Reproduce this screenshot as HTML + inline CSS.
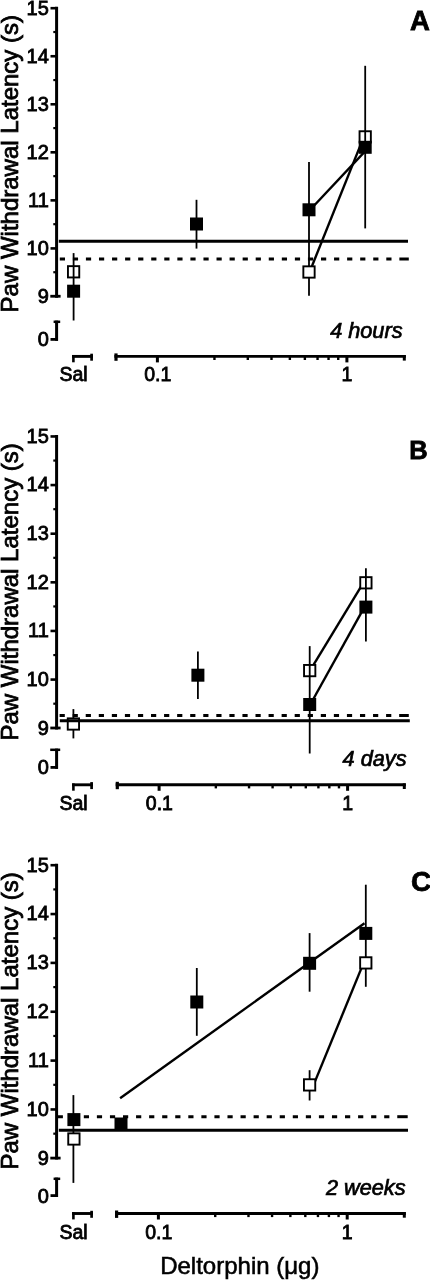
<!DOCTYPE html>
<html><head><meta charset="utf-8"><title>Deltorphin dose-response</title>
<style>
html,body{margin:0;padding:0;background:#fff;width:430px;height:1280px;overflow:hidden}
svg{display:block}
text{font-family:"Liberation Sans", Arial, Helvetica, sans-serif;fill:#000;stroke:#000;stroke-width:0.8px}
line{stroke:#000}
</style></head><body>
<svg width="430" height="1280" viewBox="0 0 430 1280">
<rect x="0" y="0" width="430" height="1280" fill="#fff"/>
<line x1="56.60" y1="6.80" x2="56.60" y2="297.65" stroke-width="3" />
<line x1="50.30" y1="296.25" x2="60.60" y2="296.25" stroke-width="2.8" />
<text x="48.80" y="302.85" font-size="20" text-anchor="end" >9</text>
<line x1="50.50" y1="248.41" x2="56.60" y2="248.41" stroke-width="2.6" />
<text x="48.80" y="254.81" font-size="20" text-anchor="end" >10</text>
<line x1="50.50" y1="200.37" x2="56.60" y2="200.37" stroke-width="2.6" />
<text x="48.80" y="206.77" font-size="20" text-anchor="end" >11</text>
<line x1="50.50" y1="152.32" x2="56.60" y2="152.32" stroke-width="2.6" />
<text x="48.80" y="158.72" font-size="20" text-anchor="end" >12</text>
<line x1="50.50" y1="104.28" x2="56.60" y2="104.28" stroke-width="2.6" />
<text x="48.80" y="110.68" font-size="20" text-anchor="end" >13</text>
<line x1="50.50" y1="56.24" x2="56.60" y2="56.24" stroke-width="2.6" />
<text x="48.80" y="62.64" font-size="20" text-anchor="end" >14</text>
<line x1="50.50" y1="8.20" x2="56.60" y2="8.20" stroke-width="2.6" />
<text x="48.80" y="14.60" font-size="20" text-anchor="end" >15</text>
<line x1="53.30" y1="272.23" x2="56.60" y2="272.23" stroke-width="2.2" />
<line x1="53.30" y1="224.19" x2="56.60" y2="224.19" stroke-width="2.2" />
<line x1="53.30" y1="176.15" x2="56.60" y2="176.15" stroke-width="2.2" />
<line x1="53.30" y1="128.10" x2="56.60" y2="128.10" stroke-width="2.2" />
<line x1="53.30" y1="80.06" x2="56.60" y2="80.06" stroke-width="2.2" />
<line x1="53.30" y1="32.02" x2="56.60" y2="32.02" stroke-width="2.2" />
<line x1="56.60" y1="320.60" x2="56.60" y2="340.80" stroke-width="3" />
<line x1="53.60" y1="321.80" x2="60.20" y2="321.80" stroke-width="2.5" />
<line x1="50.50" y1="339.40" x2="58.00" y2="339.40" stroke-width="2.8" />
<text x="48.80" y="346.40" font-size="20" text-anchor="end" >0</text>
<line x1="72.10" y1="356.40" x2="93.00" y2="356.40" stroke-width="2.9" />
<line x1="73.40" y1="355.00" x2="73.40" y2="362.30" stroke-width="2.6" />
<line x1="91.60" y1="353.70" x2="91.60" y2="360.70" stroke-width="2.7" />
<line x1="114.40" y1="356.40" x2="405.80" y2="356.40" stroke-width="2.9" />
<line x1="116.00" y1="353.40" x2="116.00" y2="360.80" stroke-width="3.2" />
<line x1="157.40" y1="356.40" x2="157.40" y2="362.40" stroke-width="3.0" />
<line x1="346.90" y1="356.40" x2="346.90" y2="362.40" stroke-width="3.0" />
<line x1="214.45" y1="356.40" x2="214.45" y2="360.00" stroke-width="2.4" />
<line x1="247.81" y1="356.40" x2="247.81" y2="360.00" stroke-width="2.4" />
<line x1="271.49" y1="356.40" x2="271.49" y2="360.00" stroke-width="2.4" />
<line x1="289.85" y1="356.40" x2="289.85" y2="360.00" stroke-width="2.4" />
<line x1="304.86" y1="356.40" x2="304.86" y2="360.00" stroke-width="2.4" />
<line x1="317.55" y1="356.40" x2="317.55" y2="360.00" stroke-width="2.4" />
<line x1="328.54" y1="356.40" x2="328.54" y2="360.00" stroke-width="2.4" />
<line x1="338.23" y1="356.40" x2="338.23" y2="360.00" stroke-width="2.4" />
<line x1="404.30" y1="355.00" x2="404.30" y2="360.60" stroke-width="3.0" />
<text x="73.60" y="381.30" font-size="19.5" text-anchor="middle" >Sal</text>
<text x="157.70" y="381.30" font-size="19.5" text-anchor="middle" >0.1</text>
<text x="346.90" y="381.30" font-size="19.5" text-anchor="middle" >1</text>
<text x="410.00" y="30.00" font-size="27.5" font-weight="bold" >A</text>
<text x="402.50" y="337.60" font-size="21.7" text-anchor="end" font-style="italic" style="stroke-width:0.7px">4 hours</text>
<line x1="309.60" y1="272.00" x2="363.80" y2="136.90" stroke-width="2.4" />
<line x1="309.00" y1="211.00" x2="365.00" y2="151.40" stroke-width="2.4" />
<rect x="67.95" y="266.15" width="11.30" height="11.30" fill="#fff" stroke="#000" stroke-width="1.9"/>
<line x1="309.00" y1="262.00" x2="309.00" y2="295.80" stroke-width="1.8" />
<rect x="303.35" y="266.35" width="11.30" height="11.30" fill="#fff" stroke="#000" stroke-width="1.9"/>
<rect x="359.55" y="131.25" width="11.30" height="11.30" fill="#fff" stroke="#000" stroke-width="1.9"/>
<line x1="73.60" y1="253.10" x2="73.60" y2="320.50" stroke-width="1.8" />
<rect x="67.10" y="284.70" width="13.0" height="13.0" fill="#000" stroke="none"/>
<line x1="196.50" y1="199.80" x2="196.50" y2="248.60" stroke-width="1.8" />
<rect x="190.00" y="217.50" width="13.0" height="13.0" fill="#000" stroke="none"/>
<line x1="309.00" y1="161.90" x2="309.00" y2="262.00" stroke-width="1.8" />
<rect x="302.50" y="203.30" width="13.0" height="13.0" fill="#000" stroke="none"/>
<line x1="365.20" y1="65.80" x2="365.20" y2="228.40" stroke-width="1.8" />
<rect x="358.70" y="140.80" width="13.0" height="13.0" fill="#000" stroke="none"/>
<line x1="58.80" y1="241.30" x2="408.00" y2="241.30" stroke-width="3" />
<line x1="59.80" y1="259.00" x2="398.36" y2="259.00" stroke-width="3" stroke-dasharray="5.2 7.86"/>
<line x1="399.36" y1="259.00" x2="408.80" y2="259.00" stroke-width="3" />
<line x1="56.60" y1="435.05" x2="56.60" y2="729.40" stroke-width="3" />
<line x1="50.30" y1="728.00" x2="60.60" y2="728.00" stroke-width="2.8" />
<text x="48.80" y="734.60" font-size="20" text-anchor="end" >9</text>
<line x1="50.50" y1="679.58" x2="56.60" y2="679.58" stroke-width="2.6" />
<text x="48.80" y="685.98" font-size="20" text-anchor="end" >10</text>
<line x1="50.50" y1="630.95" x2="56.60" y2="630.95" stroke-width="2.6" />
<text x="48.80" y="637.35" font-size="20" text-anchor="end" >11</text>
<line x1="50.50" y1="582.33" x2="56.60" y2="582.33" stroke-width="2.6" />
<text x="48.80" y="588.73" font-size="20" text-anchor="end" >12</text>
<line x1="50.50" y1="533.70" x2="56.60" y2="533.70" stroke-width="2.6" />
<text x="48.80" y="540.10" font-size="20" text-anchor="end" >13</text>
<line x1="50.50" y1="485.07" x2="56.60" y2="485.07" stroke-width="2.6" />
<text x="48.80" y="491.48" font-size="20" text-anchor="end" >14</text>
<line x1="50.50" y1="436.45" x2="56.60" y2="436.45" stroke-width="2.6" />
<text x="48.80" y="442.85" font-size="20" text-anchor="end" >15</text>
<line x1="53.30" y1="703.69" x2="56.60" y2="703.69" stroke-width="2.2" />
<line x1="53.30" y1="655.06" x2="56.60" y2="655.06" stroke-width="2.2" />
<line x1="53.30" y1="606.44" x2="56.60" y2="606.44" stroke-width="2.2" />
<line x1="53.30" y1="557.81" x2="56.60" y2="557.81" stroke-width="2.2" />
<line x1="53.30" y1="509.19" x2="56.60" y2="509.19" stroke-width="2.2" />
<line x1="53.30" y1="460.56" x2="56.60" y2="460.56" stroke-width="2.2" />
<line x1="56.60" y1="748.60" x2="56.60" y2="768.80" stroke-width="3" />
<line x1="50.20" y1="749.80" x2="60.20" y2="749.80" stroke-width="2.5" />
<line x1="50.50" y1="767.40" x2="58.00" y2="767.40" stroke-width="2.8" />
<text x="48.80" y="774.40" font-size="20" text-anchor="end" >0</text>
<line x1="72.10" y1="784.80" x2="93.00" y2="784.80" stroke-width="2.9" />
<line x1="73.40" y1="783.40" x2="73.40" y2="790.70" stroke-width="2.6" />
<line x1="91.60" y1="782.10" x2="91.60" y2="789.10" stroke-width="2.7" />
<line x1="115.70" y1="784.80" x2="405.80" y2="784.80" stroke-width="2.9" />
<line x1="117.30" y1="781.80" x2="117.30" y2="789.20" stroke-width="3.2" />
<line x1="159.10" y1="784.80" x2="159.10" y2="790.80" stroke-width="3.0" />
<line x1="347.60" y1="784.80" x2="347.60" y2="790.80" stroke-width="3.0" />
<line x1="215.84" y1="784.80" x2="215.84" y2="788.40" stroke-width="2.4" />
<line x1="249.04" y1="784.80" x2="249.04" y2="788.40" stroke-width="2.4" />
<line x1="272.59" y1="784.80" x2="272.59" y2="788.40" stroke-width="2.4" />
<line x1="290.86" y1="784.80" x2="290.86" y2="788.40" stroke-width="2.4" />
<line x1="305.78" y1="784.80" x2="305.78" y2="788.40" stroke-width="2.4" />
<line x1="318.40" y1="784.80" x2="318.40" y2="788.40" stroke-width="2.4" />
<line x1="329.33" y1="784.80" x2="329.33" y2="788.40" stroke-width="2.4" />
<line x1="338.97" y1="784.80" x2="338.97" y2="788.40" stroke-width="2.4" />
<line x1="404.30" y1="783.40" x2="404.30" y2="789.00" stroke-width="3.0" />
<text x="73.60" y="809.80" font-size="19.5" text-anchor="middle" >Sal</text>
<text x="159.40" y="809.80" font-size="19.5" text-anchor="middle" >0.1</text>
<text x="347.60" y="809.80" font-size="19.5" text-anchor="middle" >1</text>
<text x="409.20" y="458.80" font-size="25.5" font-weight="bold" >B</text>
<text x="406.50" y="765.60" font-size="21.7" text-anchor="end" font-style="italic" style="stroke-width:0.7px">4 days</text>
<line x1="310.00" y1="670.60" x2="363.30" y2="582.80" stroke-width="2.4" />
<line x1="310.30" y1="704.50" x2="364.40" y2="607.10" stroke-width="2.4" />
<line x1="73.40" y1="709.10" x2="73.40" y2="738.40" stroke-width="1.8" />
<rect x="67.75" y="718.35" width="11.30" height="11.30" fill="#fff" stroke="#000" stroke-width="1.9"/>
<rect x="304.05" y="664.95" width="11.30" height="11.30" fill="#fff" stroke="#000" stroke-width="1.9"/>
<rect x="360.25" y="577.15" width="11.30" height="11.30" fill="#fff" stroke="#000" stroke-width="1.9"/>
<line x1="197.90" y1="651.50" x2="197.90" y2="699.00" stroke-width="1.8" />
<rect x="191.40" y="668.70" width="13.0" height="13.0" fill="#000" stroke="none"/>
<line x1="309.70" y1="646.10" x2="309.70" y2="753.50" stroke-width="1.8" />
<rect x="303.20" y="698.00" width="13.0" height="13.0" fill="#000" stroke="none"/>
<line x1="365.90" y1="568.30" x2="365.90" y2="641.60" stroke-width="1.8" />
<rect x="359.40" y="600.60" width="13.0" height="13.0" fill="#000" stroke="none"/>
<line x1="59.80" y1="720.70" x2="409.80" y2="720.70" stroke-width="3" />
<line x1="59.60" y1="715.50" x2="398.16" y2="715.50" stroke-width="3" stroke-dasharray="5.2 7.86"/>
<line x1="399.16" y1="715.50" x2="408.80" y2="715.50" stroke-width="3" />
<line x1="56.60" y1="863.80" x2="56.60" y2="1159.50" stroke-width="3" />
<line x1="50.30" y1="1158.10" x2="60.60" y2="1158.10" stroke-width="2.8" />
<text x="48.80" y="1164.70" font-size="20" text-anchor="end" >9</text>
<line x1="50.50" y1="1109.45" x2="56.60" y2="1109.45" stroke-width="2.6" />
<text x="48.80" y="1115.85" font-size="20" text-anchor="end" >10</text>
<line x1="50.50" y1="1060.60" x2="56.60" y2="1060.60" stroke-width="2.6" />
<text x="48.80" y="1067.00" font-size="20" text-anchor="end" >11</text>
<line x1="50.50" y1="1011.75" x2="56.60" y2="1011.75" stroke-width="2.6" />
<text x="48.80" y="1018.15" font-size="20" text-anchor="end" >12</text>
<line x1="50.50" y1="962.90" x2="56.60" y2="962.90" stroke-width="2.6" />
<text x="48.80" y="969.30" font-size="20" text-anchor="end" >13</text>
<line x1="50.50" y1="914.05" x2="56.60" y2="914.05" stroke-width="2.6" />
<text x="48.80" y="920.45" font-size="20" text-anchor="end" >14</text>
<line x1="50.50" y1="865.20" x2="56.60" y2="865.20" stroke-width="2.6" />
<text x="48.80" y="871.60" font-size="20" text-anchor="end" >15</text>
<line x1="53.30" y1="1133.67" x2="56.60" y2="1133.67" stroke-width="2.2" />
<line x1="53.30" y1="1084.82" x2="56.60" y2="1084.82" stroke-width="2.2" />
<line x1="53.30" y1="1035.97" x2="56.60" y2="1035.97" stroke-width="2.2" />
<line x1="53.30" y1="987.12" x2="56.60" y2="987.12" stroke-width="2.2" />
<line x1="53.30" y1="938.27" x2="56.60" y2="938.27" stroke-width="2.2" />
<line x1="53.30" y1="889.42" x2="56.60" y2="889.42" stroke-width="2.2" />
<line x1="56.60" y1="1177.60" x2="56.60" y2="1197.00" stroke-width="3" />
<line x1="53.60" y1="1178.80" x2="60.20" y2="1178.80" stroke-width="2.5" />
<line x1="50.50" y1="1195.60" x2="58.00" y2="1195.60" stroke-width="2.8" />
<text x="48.80" y="1202.60" font-size="20" text-anchor="end" >0</text>
<line x1="72.10" y1="1213.50" x2="93.00" y2="1213.50" stroke-width="2.9" />
<line x1="73.40" y1="1212.10" x2="73.40" y2="1219.40" stroke-width="2.6" />
<line x1="91.60" y1="1210.80" x2="91.60" y2="1217.80" stroke-width="2.7" />
<line x1="115.00" y1="1213.50" x2="405.80" y2="1213.50" stroke-width="2.9" />
<line x1="116.60" y1="1210.50" x2="116.60" y2="1217.90" stroke-width="3.2" />
<line x1="158.40" y1="1213.50" x2="158.40" y2="1219.50" stroke-width="3.0" />
<line x1="347.20" y1="1213.50" x2="347.20" y2="1219.50" stroke-width="3.0" />
<line x1="215.23" y1="1213.50" x2="215.23" y2="1217.10" stroke-width="2.4" />
<line x1="248.48" y1="1213.50" x2="248.48" y2="1217.10" stroke-width="2.4" />
<line x1="272.07" y1="1213.50" x2="272.07" y2="1217.10" stroke-width="2.4" />
<line x1="290.37" y1="1213.50" x2="290.37" y2="1217.10" stroke-width="2.4" />
<line x1="305.31" y1="1213.50" x2="305.31" y2="1217.10" stroke-width="2.4" />
<line x1="317.95" y1="1213.50" x2="317.95" y2="1217.10" stroke-width="2.4" />
<line x1="328.90" y1="1213.50" x2="328.90" y2="1217.10" stroke-width="2.4" />
<line x1="338.56" y1="1213.50" x2="338.56" y2="1217.10" stroke-width="2.4" />
<line x1="404.30" y1="1212.10" x2="404.30" y2="1217.70" stroke-width="3.0" />
<text x="73.60" y="1238.90" font-size="19.5" text-anchor="middle" >Sal</text>
<text x="158.70" y="1238.90" font-size="19.5" text-anchor="middle" >0.1</text>
<text x="347.20" y="1238.90" font-size="19.5" text-anchor="middle" >1</text>
<text x="411.00" y="891.00" font-size="28.0" font-weight="bold" >C</text>
<text x="405.50" y="1194.50" font-size="21.7" text-anchor="end" font-style="italic" style="stroke-width:0.7px">2 weeks</text>
<line x1="120.10" y1="1098.20" x2="364.50" y2="923.20" stroke-width="2.4" />
<line x1="313.60" y1="1084.90" x2="363.60" y2="962.90" stroke-width="2.4" />
<line x1="73.40" y1="1095.10" x2="73.40" y2="1182.90" stroke-width="1.8" />
<rect x="67.40" y="1113.10" width="13.0" height="13.0" fill="#000" stroke="none"/>
<line x1="196.80" y1="968.00" x2="196.80" y2="1035.80" stroke-width="1.8" />
<rect x="190.30" y="995.50" width="13.0" height="13.0" fill="#000" stroke="none"/>
<line x1="309.60" y1="933.10" x2="309.60" y2="991.70" stroke-width="1.8" />
<rect x="303.10" y="956.80" width="13.0" height="13.0" fill="#000" stroke="none"/>
<line x1="365.80" y1="884.70" x2="365.80" y2="986.80" stroke-width="1.8" />
<rect x="359.30" y="926.90" width="13.0" height="13.0" fill="#000" stroke="none"/>
<rect x="114.50" y="1117.50" width="13.0" height="13.0" fill="#000" stroke="none"/>
<rect x="68.25" y="1133.35" width="11.30" height="11.30" fill="#fff" stroke="#000" stroke-width="1.9"/>
<line x1="309.60" y1="1070.20" x2="309.60" y2="1100.50" stroke-width="1.8" />
<rect x="303.95" y="1079.25" width="11.30" height="11.30" fill="#fff" stroke="#000" stroke-width="1.9"/>
<rect x="360.15" y="957.25" width="11.30" height="11.30" fill="#fff" stroke="#000" stroke-width="1.9"/>
<line x1="58.80" y1="1130.20" x2="408.00" y2="1130.20" stroke-width="3" />
<line x1="57.70" y1="1116.70" x2="396.26" y2="1116.70" stroke-width="3" stroke-dasharray="5.2 7.86"/>
<line x1="397.26" y1="1116.70" x2="407.70" y2="1116.70" stroke-width="3" />
<text x="0" y="0" font-size="24" text-anchor="middle" transform="translate(18.4,163.70) rotate(-90)">Paw Withdrawal Latency (s)</text>
<text x="0" y="0" font-size="24" text-anchor="middle" transform="translate(18.4,591.90) rotate(-90)">Paw Withdrawal Latency (s)</text>
<text x="0" y="0" font-size="24" text-anchor="middle" transform="translate(18.4,1020.90) rotate(-90)">Paw Withdrawal Latency (s)</text>
<text x="239.80" y="1274.30" font-size="24" text-anchor="middle" style="stroke-width:0.55px">Deltorphin (&#956;g)</text>
</svg>
</body></html>
